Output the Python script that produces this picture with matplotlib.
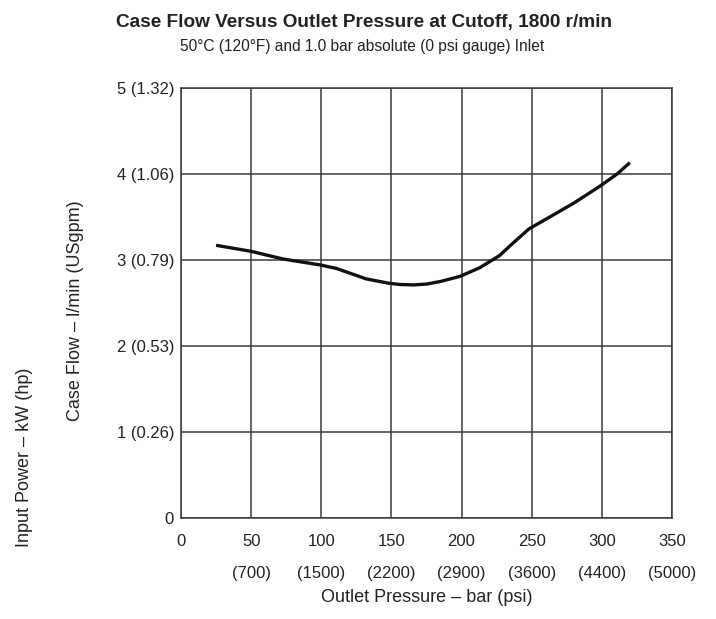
import matplotlib
matplotlib.use("Agg")
import matplotlib.pyplot as plt

plt.rcParams['font.family'] = ['Liberation Sans', 'DejaVu Sans']

# Case flow curve (bar, l/min)
pressure_bar = [25, 50, 73, 100, 111, 118, 132, 148, 156, 166, 175, 185, 199, 213,
                227, 237, 248, 263, 280, 299, 311, 320]
case_flow = [3.17, 3.10, 3.01, 2.94, 2.90, 2.86, 2.78, 2.73, 2.715, 2.71, 2.72, 2.75,
             2.81, 2.91, 3.05, 3.20, 3.36, 3.50, 3.66, 3.86, 4.00, 4.13]

x_ticks = [0, 50, 100, 150, 200, 250, 300, 350]
psi_labels = ["", "(700)", "(1500)", "(2200)", "(2900)", "(3600)", "(4400)", "(5000)"]
y_ticks = [0, 1, 2, 3, 4, 5]
y_labels = ["0", "1 (0.26)", "2 (0.53)", "3 (0.79)", "4 (1.06)", "5 (1.32)"]

fig = plt.figure(figsize=(7.16, 6.19), dpi=100)
ax = fig.add_axes([0.2528, 0.1627, 0.6857, 0.6956])

grid_col = "#3a3a3a"
txt_col = "#222222"
fs = 12
lab_fs = 13

ax.plot(pressure_bar, case_flow, color="#111111", lw=2.4, solid_capstyle="butt", zorder=3)

ax.set_xlim(0, 350)
ax.set_ylim(0, 5)
ax.set_xticks(x_ticks)
ax.set_yticks(y_ticks)
ax.set_yticklabels(y_labels)
ax.grid(True, color=grid_col, lw=1.1)
for s in ax.spines.values():
    s.set_color(grid_col)
    s.set_linewidth(1.1)
ax.tick_params(length=0, labelsize=fs, colors=txt_col)
ax.tick_params(axis="x", pad=11)
ax.tick_params(axis="y", pad=5)

for x, lab in zip(x_ticks, psi_labels):
    ax.annotate(lab, xy=(x, 0), xycoords=("data", "axes fraction"),
                xytext=(0, -55), textcoords="offset pixels",
                ha="center", va="center", fontsize=fs, color=txt_col)

fig.text(427 / 716, 1 - 597 / 619, "Outlet Pressure \u2013 bar (psi)", ha="center", va="center",
         fontsize=lab_fs, color=txt_col)
fig.text(76 / 716, 1 - 311 / 619, "Case Flow \u2013 l/min (USgpm)", rotation=90,
         ha="center", va="center", fontsize=lab_fs, color=txt_col)
fig.text(25 / 716, 1 - 457 / 619, "Input Power \u2013 kW (hp)", rotation=90,
         ha="center", va="center", fontsize=lab_fs, color=txt_col)

fig.text(364 / 716, 1 - 22 / 619, "Case Flow Versus Outlet Pressure at Cutoff, 1800 r/min",
         ha="center", va="center", fontsize=13.7, fontweight="bold", color=txt_col)
fig.text(362 / 716, 1 - 46 / 619, "50\u00b0C (120\u00b0F) and 1.0 bar absolute (0 psi gauge) Inlet",
         ha="center", va="center", fontsize=11.2, color=txt_col)

fig.savefig("out.png", dpi=100)
